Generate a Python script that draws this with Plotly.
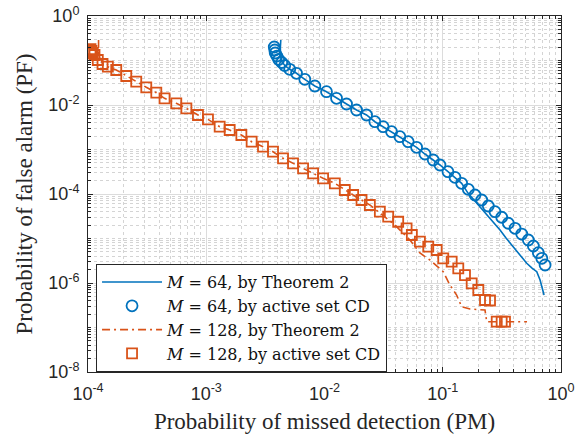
import plotly.graph_objects as go

# ---------------- data ----------------
# M = 64, by active set CD (circles)
pm64_cd = [3.76e-3, 3.80e-3, 3.83e-3, 3.95e-3, 4.10e-3, 4.35e-3, 4.61e-3, 5.08e-3,
           5.80e-3, 6.81e-3, 8.28e-3, 0.0104, 0.01264, 0.01536, 0.01866, 0.02268,
           0.02667, 0.03134, 0.03693, 0.04341, 0.05104, 0.0601, 0.07069, 0.0831,
           0.0947, 0.1107, 0.1268, 0.1445, 0.1644, 0.1874, 0.2135, 0.2428, 0.2767,
           0.3152, 0.3585, 0.4087, 0.4656, 0.5296, 0.5838, 0.6435, 0.6879, 0.7334]
pf64_cd = [0.201, 0.172, 0.1475, 0.126, 0.1053, 0.0902, 0.0772, 0.0634,
           0.0516, 0.0378, 0.0267, 0.0199, 0.01415, 0.01052, 7.72e-3, 5.96e-3,
           4.21e-3, 3.25e-3, 2.51e-3, 1.94e-3, 1.497e-3, 1.12e-3, 7.92e-4, 5.81e-4,
           4.49e-4, 3.17e-4, 2.37e-4, 1.74e-4, 1.275e-4, 9.5e-5, 7.33e-5, 5.37e-5, 4.0e-5,
           3.0e-5, 2.2e-5, 1.695e-5, 1.26e-5, 9.26e-6, 6.78e-6, 4.8e-6, 3.59e-6, 2.54e-6]

# M = 64, by Theorem 2 (solid line)
pm64_th = [4.27e-3, 4.22e-3, 4.30e-3, 4.61e-3, 5.08e-3, 5.80e-3, 6.81e-3, 8.28e-3,
           0.0104, 0.01264, 0.01536, 0.01866, 0.02268, 0.02667, 0.03134, 0.03693,
           0.04341, 0.05104, 0.0601, 0.07069, 0.0831, 0.0947, 0.1107, 0.1268, 0.1445,
           0.1634, 0.1874, 0.2106, 0.2367, 0.2714, 0.305, 0.3428, 0.393, 0.4505,
           0.5133, 0.569, 0.6238, 0.6653, 0.719]
pf64_th = [0.289, 0.17, 0.10, 0.0772, 0.0634, 0.0516, 0.0378, 0.0267,
           0.0199, 0.01415, 0.01052, 7.72e-3, 5.96e-3, 4.21e-3, 3.25e-3, 2.51e-3,
           1.94e-3, 1.497e-3, 1.12e-3, 7.92e-4, 5.81e-4, 4.49e-4, 3.17e-4, 2.37e-4, 1.74e-4,
           1.05e-4, 6.96e-5, 4.84e-5, 3.37e-5, 2.23e-5, 1.55e-5, 1.026e-5, 6.54e-6, 4.26e-6,
           2.77e-6, 2.17e-6, 1.795e-6, 1.17e-6, 5.37e-7]

# M = 128, by active set CD (squares)
pm128_cd = [1.05e-4, 1.07e-4, 1.098e-4, 1.135e-4, 1.21e-4, 1.327e-4, 1.472e-4, 1.733e-4,
            2.107e-4, 2.558e-4, 3.11e-4, 3.78e-4, 4.44e-4, 5.58e-4, 6.79e-4, 8.51e-4,
            1.034e-3, 1.299e-3, 1.578e-3, 1.982e-3, 2.42e-3, 3.02e-3, 3.67e-3, 4.46e-3,
            5.42e-3, 6.59e-3, 8.01e-3, 9.73e-3, 0.01223, 0.01485, 0.01747, 0.02057,
            0.02418, 0.02939, 0.03456, 0.04199, 0.04945, 0.0548, 0.0641, 0.0754,
            0.0888, 0.101, 0.119, 0.1353, 0.1542, 0.1757, 0.1998, 0.2277, 0.251,
            0.286, 0.315, 0.336]
pf128_cd = [0.181, 0.1635, 0.1475, 0.133, 0.1026, 0.0834, 0.0726, 0.0612,
            0.0449, 0.0334, 0.025, 0.0189, 0.01415, 0.01092, 8.43e-3, 5.96e-3,
            4.77e-3, 3.25e-3, 2.74e-3, 2.12e-3, 1.497e-3, 1.156e-3, 8.92e-4, 6.34e-4,
            4.9e-4, 3.78e-4, 2.92e-4, 2.25e-4, 1.74e-4, 1.23e-4, 9.5e-5, 7.33e-5,
            5.66e-5, 4.0e-5, 3.09e-5, 2.38e-5, 1.695e-5, 1.2e-5, 8.48e-6, 6.54e-6,
            5.52e-6, 3.59e-6, 3.01e-6, 2.14e-6, 1.51e-6, 9.84e-7, 6.96e-7, 4.15e-7, 4.04e-7,
            1.35e-7, 1.35e-7, 1.35e-7]

# M = 128, by Theorem 2 (dash-dot line)
pm128_th = [1.228e-4, 1.228e-4, 1.327e-4, 1.472e-4, 1.733e-4, 2.107e-4, 2.558e-4, 3.11e-4,
            3.78e-4, 4.44e-4, 5.58e-4, 6.79e-4, 8.51e-4, 1.034e-3, 1.299e-3, 1.578e-3,
            1.982e-3, 2.42e-3, 3.02e-3, 3.67e-3, 4.46e-3, 5.42e-3, 6.59e-3, 8.01e-3,
            9.73e-3, 0.01223, 0.01485, 0.01747, 0.02057, 0.02418, 0.02939, 0.0394,
            0.0528, 0.0641, 0.0779, 0.101, 0.115, 0.131, 0.1445, 0.17, 0.2277, 0.2353, 0.516]
pf128_th = [0.289, 0.15, 0.0834, 0.0726, 0.0612, 0.0449, 0.0334, 0.025,
            0.0189, 0.01415, 0.01092, 8.43e-3, 5.96e-3, 4.77e-3, 3.25e-3, 2.74e-3,
            2.12e-3, 1.497e-3, 1.156e-3, 8.92e-4, 6.34e-4, 4.9e-4, 3.78e-4, 2.92e-4,
            2.25e-4, 1.74e-4, 1.23e-4, 9.5e-5, 7.33e-5, 5.66e-5, 3.74e-5, 2.01e-5,
            9.26e-6, 4.72e-6, 3.29e-6, 1.795e-6, 9.0e-7, 5.37e-7, 2.93e-7, 2.6e-7, 2.47e-7, 1.35e-7, 1.35e-7]

x_tick_vals = [1e-4, 1e-3, 1e-2, 1e-1, 1e0]
x_tick_text = ["10<sup>-4</sup>", "10<sup>-3</sup>", "10<sup>-2</sup>", "10<sup>-1</sup>", "10<sup>0</sup>"]
y_tick_vals = [1e-8, 1e-6, 1e-4, 1e-2, 1e0]
y_tick_text = ["10<sup>-8</sup>", "10<sup>-6</sup>", "10<sup>-4</sup>", "10<sup>-2</sup>", "10<sup>0</sup>"]

legend_names = ["<i>M</i> = 64, by Theorem 2", "<i>M</i> = 64, by active set CD",
                "<i>M</i> = 128, by Theorem 2", "<i>M</i> = 128, by active set CD"]

BLUE = "#0072BD"
ORANGE = "#D95319"
AX = "#262626"

# minor tick positions (every digit of every decade)
x_minor = [k * 10.0 ** e for e in range(-4, 0) for k in range(2, 10)]
y_minor = [k * 10.0 ** e for e in range(-8, 0) for k in range(1, 10)
           if not (k == 1 and e % 2 == 0)]

fig = go.Figure()
fig.add_trace(go.Scatter(x=pm64_th, y=pf64_th, mode="lines", name=legend_names[0],
                         line=dict(color=BLUE, width=1.6)))
fig.add_trace(go.Scatter(x=pm64_cd, y=pf64_cd, mode="markers", name=legend_names[1],
                         marker=dict(symbol="circle-open", size=11, color=BLUE,
                                     line=dict(width=1.8, color=BLUE))))
fig.add_trace(go.Scatter(x=pm128_th, y=pf128_th, mode="lines", name=legend_names[2],
                         line=dict(color=ORANGE, width=1.6, dash="8px,4px,2px,4px")))
fig.add_trace(go.Scatter(x=pm128_cd, y=pf128_cd, mode="markers", name=legend_names[3],
                         marker=dict(symbol="square-open", size=10, color=ORANGE,
                                     line=dict(width=1.8, color=ORANGE))))

axis_common = dict(
    type="log", showline=True, linecolor=AX, linewidth=1, mirror="allticks",
    ticks="inside", ticklen=5, tickcolor=AX, tickwidth=1,
    showgrid=True, gridcolor="#dcdcdc", gridwidth=1, zeroline=False,
    tickfont=dict(family="Liberation Sans, Arial", size=18, color="#262626"),
    title_font=dict(family="Liberation Serif, Times New Roman", size=23, color="#262626"),
    automargin=False,
)

fig.update_layout(
    width=584, height=439,
    margin=dict(l=88, r=23, t=16, b=67),
    paper_bgcolor="white", plot_bgcolor="white",
    showlegend=True,
    xaxis=dict(axis_common, range=[-4, 0], tickmode="array", tickvals=x_tick_vals,
               ticktext=x_tick_text, ticklabelstandoff=5,
               title=dict(text="Probability of missed detection (PM)", standoff=10),
               minor=dict(tickmode="array", tickvals=x_minor, ticks="inside", ticklen=3,
                          tickcolor=AX, showgrid=True, gridcolor="#d4d4d4",
                          griddash="dot", gridwidth=1)),
    yaxis=dict(axis_common, range=[-8, 0], tickmode="array", tickvals=y_tick_vals,
               ticktext=y_tick_text, ticklabelstandoff=4,
               title=dict(text="Probability of false alarm (PF)", standoff=9),
               minor=dict(tickmode="array", tickvals=y_minor, ticks="inside", ticklen=3,
                          tickcolor=AX, showgrid=True, gridcolor="#d4d4d4",
                          griddash="dot", gridwidth=1)),
    legend=dict(x=0.017, y=0.303, xanchor="left", yanchor="top",
                bgcolor="white", bordercolor=AX, borderwidth=1,
                font=dict(family="DejaVu Serif", size=16, color="#111111"),
                itemwidth=60, tracegroupgap=0),
)

fig.write_html("out.html", config={"displayModeBar": False},
               post_script="document.body.style.margin='0px';document.body.style.padding='0px';")
